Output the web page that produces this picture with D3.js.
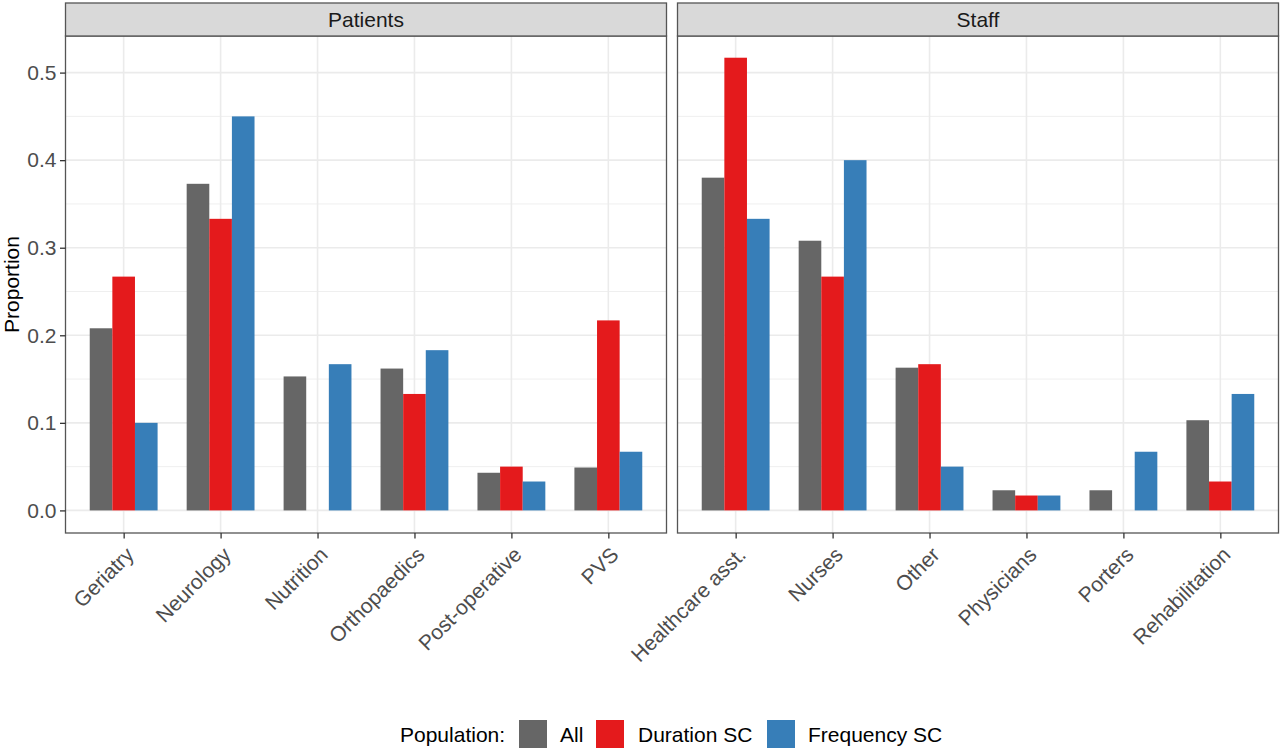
<!DOCTYPE html>
<html>
<head>
<meta charset="utf-8">
<script src="https://cdn.jsdelivr.net/npm/d3@7"></script>
<style>
  body { margin: 0; background: #fff; }
  text { font-family: "Liberation Sans", Arial, sans-serif; }
</style>
</head>
<body>
<svg id="chart" width="1280" height="750"></svg>
<script>
// data
const facets = ['Patients', 'Staff']
const series = ['All', 'Duration SC', 'Frequency SC']
const colors = ['#666666', '#E41A1C', '#377EB8']

const patientCats = ['Geriatry', 'Neurology', 'Nutrition', 'Orthopaedics', 'Post-operative', 'PVS']
const patientAll = [0.208, 0.373, 0.153, 0.162, 0.043, 0.049]
const patientDuration = [0.267, 0.333, 0, 0.133, 0.05, 0.217]
const patientFrequency = [0.1, 0.45, 0.167, 0.183, 0.033, 0.067]

const staffCats = ['Healthcare asst.', 'Nurses', 'Other', 'Physicians', 'Porters', 'Rehabilitation']
const staffAll = [0.38, 0.308, 0.163, 0.023, 0.023, 0.103]
const staffDuration = [0.517, 0.267, 0.167, 0.017, 0, 0.033]
const staffFrequency = [0.333, 0.4, 0.05, 0.017, 0.067, 0.133]

const yTicks = [0, 0.1, 0.2, 0.3, 0.4, 0.5]

const panels = [
  { name: facets[0], cats: patientCats, values: [patientAll, patientDuration, patientFrequency] },
  { name: facets[1], cats: staffCats, values: [staffAll, staffDuration, staffFrequency] }
]

// layout
const panelW = 601
const panelLeft = [65.5, 677.5]
const stripTop = 3, panelTop = 36, panelBottom = 533
const fontSize = 21

const svg = d3.select('#chart')

const y = d3.scaleLinear()
  .domain([-0.0258, 0.5418])
  .range([panelBottom, panelTop])

const minorTicks = d3.range(0.05, 0.55, 0.1)

panels.forEach((p, pi) => {
  const x0 = panelLeft[pi]
  const g = svg.append('g')

  const x = d3.scalePoint()
    .domain(p.cats)
    .range([x0, x0 + panelW])
    .padding(0.6)
  const step = x.step()

  const dodge = d3.scaleBand()
    .domain(series)
    .range([-0.35 * step, 0.35 * step])

  // grid
  g.selectAll('.minor')
    .data(minorTicks)
    .enter()
    .append('line')
    .attr('x1', x0).attr('x2', x0 + panelW)
    .attr('y1', d => y(d)).attr('y2', d => y(d))
    .attr('stroke', '#EBEBEB')
    .attr('stroke-width', 0.8)

  g.selectAll('.major')
    .data(yTicks)
    .enter()
    .append('line')
    .attr('x1', x0).attr('x2', x0 + panelW)
    .attr('y1', d => y(d)).attr('y2', d => y(d))
    .attr('stroke', '#EBEBEB')
    .attr('stroke-width', 1.6)

  g.selectAll('.vgrid')
    .data(p.cats)
    .enter()
    .append('line')
    .attr('x1', d => x(d)).attr('x2', d => x(d))
    .attr('y1', panelTop).attr('y2', panelBottom)
    .attr('stroke', '#EBEBEB')
    .attr('stroke-width', 1.6)

  // bars
  const rows = []
  p.cats.forEach((c, ci) => {
    series.forEach((s, si) => rows.push({ cat: c, s: s, si: si, v: p.values[si][ci] }))
  })

  g.selectAll('.bar')
    .data(rows.filter(d => d.v > 0))
    .enter()
    .append('rect')
    .attr('x', d => x(d.cat) + dodge(d.s))
    .attr('width', dodge.bandwidth())
    .attr('y', d => y(d.v))
    .attr('height', d => y(0) - y(d.v))
    .attr('fill', d => colors[d.si])

  // panel border
  g.append('rect')
    .attr('x', x0).attr('y', panelTop)
    .attr('width', panelW).attr('height', panelBottom - panelTop)
    .attr('fill', 'none')
    .attr('stroke', '#555555')
    .attr('stroke-width', 1.3)

  // strip
  g.append('rect')
    .attr('x', x0).attr('y', stripTop)
    .attr('width', panelW).attr('height', panelTop - stripTop)
    .attr('fill', '#D9D9D9')
    .attr('stroke', '#555555')
    .attr('stroke-width', 1.3)

  g.append('text')
    .attr('x', x0 + panelW / 2)
    .attr('y', (stripTop + panelTop) / 2)
    .attr('dy', '0.36em')
    .attr('text-anchor', 'middle')
    .attr('font-size', fontSize)
    .attr('fill', '#1A1A1A')
    .text(p.name)

  // x axis
  const xAxis = g.append('g')
    .attr('transform', `translate(0,${panelBottom})`)
    .call(d3.axisBottom(x).tickSize(5.5).tickPadding(4))
  xAxis.select('.domain').remove()
  xAxis.selectAll('.tick line').attr('stroke', '#333333').attr('stroke-width', 1.3)
  xAxis.selectAll('.tick text')
    .attr('font-size', fontSize)
    .attr('fill', '#4D4D4D')
    .attr('text-anchor', 'end')
    .attr('y', 0)
    .attr('dy', 0)
    .attr('transform', 'translate(11,23) rotate(-45)')

  // y axis on first panel only
  if (pi === 0) {
    const yAxis = g.append('g')
      .attr('transform', `translate(${x0},0)`)
      .call(d3.axisLeft(y).tickValues(yTicks).tickFormat(d3.format('.1f')).tickSize(5.5).tickPadding(3.5))
    yAxis.select('.domain').remove()
    yAxis.selectAll('.tick line').attr('stroke', '#333333').attr('stroke-width', 1.3)
    yAxis.selectAll('.tick text')
      .attr('font-size', fontSize)
      .attr('fill', '#4D4D4D')
  }
})

// y title
svg.append('text')
  .attr('transform', `translate(19,${(panelTop + panelBottom) / 2}) rotate(-90)`)
  .attr('text-anchor', 'middle')
  .attr('font-size', fontSize)
  .attr('fill', '#000')
  .text('Proportion')

// legend
const legend = svg.append('g').attr('transform', 'translate(0,734)')
legend.append('text')
  .attr('x', 400)
  .attr('dy', '0.36em')
  .attr('font-size', fontSize)
  .attr('fill', '#000')
  .text('Population:')

const keyX = [519, 596, 767]
const labelX = [560, 638, 808]
series.forEach((s, i) => {
  legend.append('rect')
    .attr('x', keyX[i]).attr('y', -14)
    .attr('width', 28).attr('height', 28)
    .attr('fill', colors[i])
  legend.append('text')
    .attr('x', labelX[i])
    .attr('dy', '0.36em')
    .attr('font-size', fontSize)
    .attr('fill', '#000')
    .text(s)
})
</script>
</body>
</html>
